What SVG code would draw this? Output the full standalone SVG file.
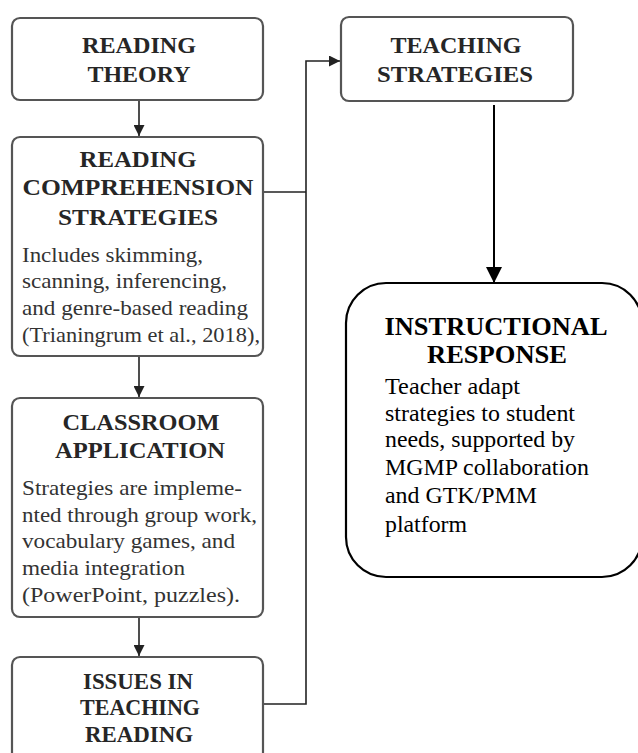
<svg xmlns="http://www.w3.org/2000/svg" width="638" height="753" viewBox="0 0 638 753" font-family="Liberation Serif, Times New Roman, serif">
<defs>
<style>
.box{fill:#fff;stroke:#555;stroke-width:2.2}
.ir{fill:#fff;stroke:#000;stroke-width:2.2}
.h{font-weight:bold;font-size:24px;fill:#262626;text-anchor:middle}
.b{font-size:22px;fill:#333}
.ih{font-weight:bold;font-size:25.5px;fill:#000;text-anchor:middle}
.ib{font-size:23.5px;fill:#000}
.c{fill:none;stroke:#222;stroke-width:1.6}
.c2{fill:none;stroke:#000;stroke-width:2}
</style>
<marker id="a" viewBox="0 0 10 10" refX="10" refY="5" markerWidth="12" markerHeight="11" orient="auto" markerUnits="userSpaceOnUse">
<path d="M0,0 L10,5 L0,10 Z" fill="#222"/>
</marker>
<marker id="a2" viewBox="0 0 10 10" refX="10" refY="5" markerWidth="16" markerHeight="16" orient="auto" markerUnits="userSpaceOnUse">
<path d="M0,0 L10,5 L0,10 Z" fill="#000"/>
</marker>
</defs>
<g id="connectors">
<line class="c" x1="139" y1="100" x2="139" y2="136" marker-end="url(#a)"/>
<line class="c" x1="139" y1="356" x2="139" y2="397" marker-end="url(#a)"/>
<line class="c" x1="139" y1="617" x2="139" y2="656" marker-end="url(#a)"/>
<polyline class="c" points="263,192 306,192"/>
<polyline class="c" points="263,704 306,704 306,61 340,61" marker-end="url(#a)"/>
<line class="c2" x1="494" y1="105" x2="494" y2="283" marker-end="url(#a2)"/>
</g>
<g id="reading-theory" style="font-family:'Liberation Serif',serif">
<rect class="box" x="12" y="18" width="251" height="82" rx="8"/>
<text class="h" x="139" y="53" textLength="114" lengthAdjust="spacingAndGlyphs">READING</text>
<text class="h" x="139" y="82" textLength="103" lengthAdjust="spacingAndGlyphs">THEORY</text>
</g>
<g id="reading-comprehension-strategies" style="font-family:'Liberation Serif',serif">
<rect class="box" x="12" y="137" width="251" height="219" rx="8"/>
<text class="h" x="138" y="167" textLength="117" lengthAdjust="spacingAndGlyphs">READING</text>
<text class="h" x="138" y="195" textLength="231" lengthAdjust="spacingAndGlyphs">COMPREHENSION</text>
<text class="h" x="138" y="225" textLength="160" lengthAdjust="spacingAndGlyphs">STRATEGIES</text>
<text class="b" x="22" y="262" textLength="181" lengthAdjust="spacingAndGlyphs">Includes skimming,</text>
<text class="b" x="22" y="288" textLength="205" lengthAdjust="spacingAndGlyphs">scanning, inferencing,</text>
<text class="b" x="22" y="315" textLength="226" lengthAdjust="spacingAndGlyphs">and genre-based reading</text>
<text class="b" x="22" y="342" textLength="238" lengthAdjust="spacingAndGlyphs">(Trianingrum et al., 2018),</text>
</g>
<g id="classroom-application" style="font-family:'Liberation Serif',serif">
<rect class="box" x="12" y="398" width="251" height="219" rx="8"/>
<text class="h" x="141" y="430" textLength="157" lengthAdjust="spacingAndGlyphs">CLASSROOM</text>
<text class="h" x="140" y="458" textLength="170" lengthAdjust="spacingAndGlyphs">APPLICATION</text>
<text class="b" x="22" y="495" textLength="220" lengthAdjust="spacingAndGlyphs">Strategies are impleme-</text>
<text class="b" x="22" y="522" textLength="235" lengthAdjust="spacingAndGlyphs">nted through group work,</text>
<text class="b" x="22" y="548" textLength="213" lengthAdjust="spacingAndGlyphs">vocabulary games, and</text>
<text class="b" x="22" y="575" textLength="163" lengthAdjust="spacingAndGlyphs">media integration</text>
<text class="b" x="22" y="602" textLength="218" lengthAdjust="spacingAndGlyphs">(PowerPoint,  puzzles).</text>
</g>
<g id="issues-in-teaching-reading" style="font-family:'Liberation Serif',serif">
<rect class="box" x="12" y="657" width="251" height="120" rx="8"/>
<text class="h" x="138" y="689" textLength="110" lengthAdjust="spacingAndGlyphs">ISSUES IN</text>
<text class="h" x="140" y="715" textLength="120" lengthAdjust="spacingAndGlyphs">TEACHING</text>
<text class="h" x="139" y="742" textLength="108" lengthAdjust="spacingAndGlyphs">READING</text>
</g>
<g id="teaching-strategies" style="font-family:'Liberation Serif',serif">
<rect class="box" x="341" y="17" width="232" height="84" rx="8"/>
<text class="h" x="456" y="53" textLength="131" lengthAdjust="spacingAndGlyphs">TEACHING</text>
<text class="h" x="455" y="82" textLength="156" lengthAdjust="spacingAndGlyphs">STRATEGIES</text>
</g>
<g id="instructional-response" style="font-family:'Liberation Serif',serif">
<rect class="ir" x="346" y="283" width="296" height="294" rx="40"/>
<text class="ih" x="496" y="335" textLength="223" lengthAdjust="spacingAndGlyphs">INSTRUCTIONAL</text>
<text class="ih" x="497" y="363" textLength="140" lengthAdjust="spacingAndGlyphs">RESPONSE</text>
<text class="ib" x="385" y="394" textLength="135" lengthAdjust="spacingAndGlyphs">Teacher adapt</text>
<text class="ib" x="385" y="421" textLength="190" lengthAdjust="spacingAndGlyphs">strategies to student</text>
<text class="ib" x="385" y="447" textLength="190" lengthAdjust="spacingAndGlyphs">needs, supported by</text>
<text class="ib" x="385" y="475" textLength="204" lengthAdjust="spacingAndGlyphs">MGMP collaboration</text>
<text class="ib" x="385" y="503" textLength="152" lengthAdjust="spacingAndGlyphs">and GTK/PMM</text>
<text class="ib" x="385" y="532" textLength="82" lengthAdjust="spacingAndGlyphs">platform</text>
</g>
</svg>
